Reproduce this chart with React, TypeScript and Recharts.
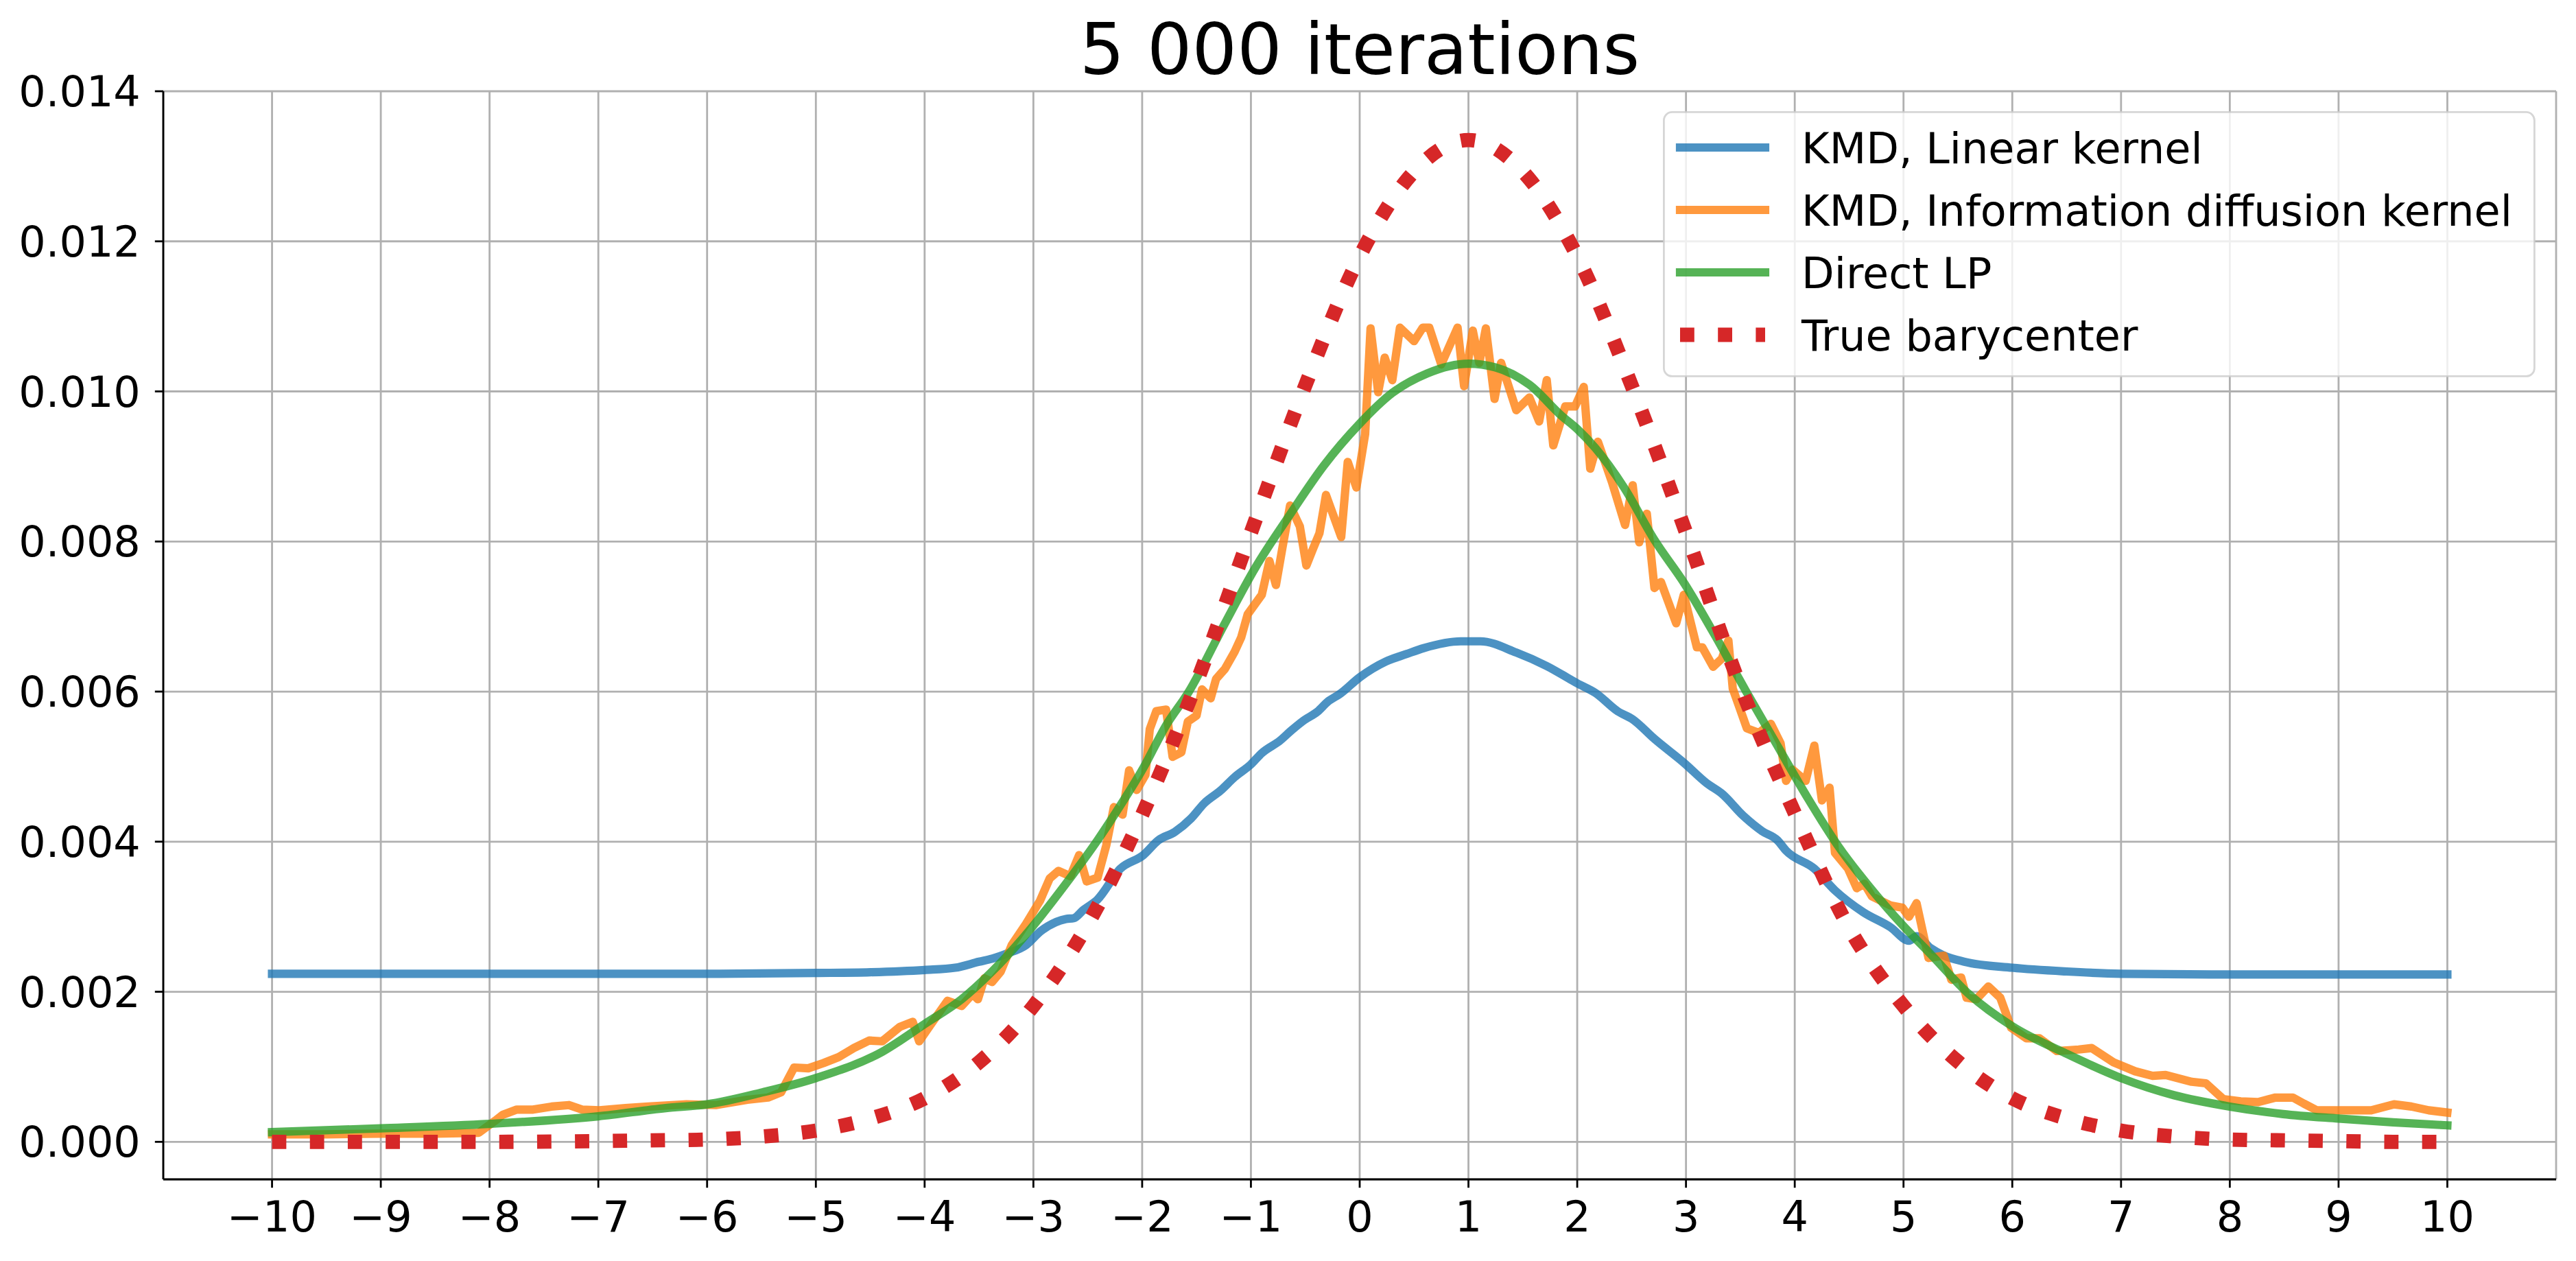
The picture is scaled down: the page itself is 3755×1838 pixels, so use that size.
import { CartesianGrid, Legend, Line, LineChart, XAxis, YAxis } from 'recharts';

const WIDTH = 3755;
const HEIGHT = 1838;
const FONT = '"DejaVu Sans", sans-serif';

const TITLE = '5 000 iterations';

const X_TICKS = [-10, -9, -8, -7, -6, -5, -4, -3, -2, -1, 0, 1, 2, 3, 4, 5, 6, 7, 8, 9, 10];
const Y_TICKS = [0, 0.002, 0.004, 0.006, 0.008, 0.01, 0.012, 0.014];

// KMD, Linear kernel
const linearX = [
  -10, -8, -6, -5, -4.5, -4, -3.72, -3.5, -3.38, -3.24, -3.07, -2.93, -2.7, -2.63, -2.54, -2.41, -2.2,
  -1.99, -1.85, -1.7, -1.55, -1.43, -1.28, -1.15, -1, -0.9, -0.73, -0.63, -0.51, -0.39, -0.29, -0.18, 0,
  0.24, 0.43, 0.59, 0.93, 1.11, 1.44, 1.72, 2, 2.17, 2.37, 2.51, 2.71, 2.99, 3.19, 3.33, 3.53, 3.7, 3.84,
  3.92, 4.18, 4.37, 4.63, 4.88, 5.05, 5.12, 5.25, 5.36, 5.56, 6, 6.5, 7, 8, 10,
];
const linearY = [
  0.00224, 0.00224, 0.00224, 0.00225, 0.00226, 0.00229, 0.00232, 0.0024, 0.00244, 0.00251, 0.00262, 0.00281,
  0.00297, 0.00298, 0.00309, 0.00323, 0.00364, 0.00382, 0.00402, 0.00413, 0.00431, 0.00451, 0.00468, 0.00486,
  0.00503, 0.00518, 0.00535, 0.00548, 0.00562, 0.00573, 0.00587, 0.00597, 0.00619, 0.0064, 0.0065, 0.00658,
  0.00667, 0.00667, 0.00652, 0.00634, 0.00611, 0.00598, 0.00574, 0.00563, 0.00537, 0.00504, 0.00478, 0.00464,
  0.00434, 0.00414, 0.00402, 0.00388, 0.00364, 0.00335, 0.00306, 0.00286, 0.00268, 0.00274, 0.00258, 0.00249,
  0.0024, 0.00232, 0.00227, 0.00224, 0.00223, 0.00223,
];

// KMD, Information diffusion kernel
const diffusionX = [
  -10, -9.5, -9, -8.5, -8.1, -7.95, -7.88, -7.75, -7.6, -7.43, -7.27, -7.15, -6.99, -6.75, -6.54, -6.19,
  -5.92, -5.63, -5.44, -5.32, -5.2, -5.07, -4.93, -4.79, -4.65, -4.51, -4.39, -4.23, -4.11, -4.05, -3.94,
  -3.79, -3.66, -3.56, -3.51, -3.45, -3.38, -3.3, -3.2, -3.07, -2.94, -2.85, -2.77, -2.66, -2.58, -2.51,
  -2.41, -2.33, -2.26, -2.18, -2.12, -2.05, -1.97, -1.93, -1.87, -1.78, -1.72, -1.64, -1.58, -1.5, -1.45,
  -1.37, -1.32, -1.24, -1.15, -1.09, -1.03, -0.9, -0.83, -0.77, -0.71, -0.64, -0.55, -0.49, -0.43, -0.37,
  -0.31, -0.17, -0.11, -0.03, 0.05, 0.1, 0.17, 0.23, 0.3, 0.37, 0.5, 0.58, 0.64, 0.75, 0.9, 0.96,
  1.04, 1.1, 1.16, 1.24, 1.3, 1.44, 1.56, 1.65, 1.72, 1.78, 1.89, 1.98, 2.06, 2.12, 2.19, 2.32, 2.44, 2.51,
  2.57, 2.64, 2.71, 2.77, 2.91, 2.98, 3.1, 3.15, 3.25, 3.33, 3.39, 3.43, 3.56, 3.67, 3.78, 3.87, 3.92, 3.98,
  4.1, 4.18, 4.25, 4.32, 4.37, 4.49, 4.57, 4.64, 4.71, 4.88, 4.99, 5.05, 5.12, 5.23, 5.37, 5.44, 5.53, 5.58,
  5.67, 5.78, 5.89, 5.99, 6.13, 6.25, 6.41, 6.61, 6.73, 6.93, 7.13, 7.29, 7.41, 7.65, 7.78, 7.94, 8.1, 8.26,
  8.42, 8.58, 8.68, 8.8, 9.06, 9.3, 9.51, 9.67, 9.83, 10,
];
const diffusionY = [
  0.0001, 0.0001, 0.00011, 0.00011, 0.00012, 0.00028, 0.00036, 0.00043, 0.00043, 0.00047, 0.00049, 0.00043,
  0.00042, 0.00045, 0.00047, 0.0005, 0.00049, 0.00056, 0.00059, 0.00066, 0.00099, 0.00098, 0.00105, 0.00113,
  0.00125, 0.00135, 0.00134, 0.00153, 0.0016, 0.00134, 0.00157, 0.00188, 0.00181, 0.00197, 0.0019, 0.00218,
  0.00213, 0.00227, 0.00262, 0.0029, 0.00321, 0.00351, 0.00361, 0.00354, 0.00382, 0.00347, 0.00352, 0.00395,
  0.00446, 0.00436, 0.00495, 0.00469, 0.00489, 0.0055, 0.00574, 0.00576, 0.00513, 0.00519, 0.0056, 0.00568,
  0.00603, 0.00591, 0.00617, 0.0063, 0.00653, 0.00672, 0.00703, 0.00729, 0.00774, 0.00742, 0.00792, 0.00848,
  0.0082, 0.00768, 0.0079, 0.00811, 0.00862, 0.00806, 0.00906, 0.00872, 0.00943, 0.01084, 0.00999, 0.01045,
  0.01015, 0.01085, 0.01067, 0.01085, 0.01085, 0.01036, 0.01085, 0.01007, 0.01081, 0.01038, 0.01084, 0.0099,
  0.01038, 0.00975, 0.00992, 0.0096, 0.01015, 0.00928, 0.0098, 0.0098, 0.01006, 0.00897, 0.00933, 0.00879,
  0.00822, 0.00875, 0.00799, 0.00837, 0.00738, 0.00746, 0.00691, 0.00729, 0.00659, 0.00659, 0.00633, 0.00644,
  0.00668, 0.00604, 0.00551, 0.00545, 0.00557, 0.00531, 0.00481, 0.00496, 0.00481, 0.00528, 0.00455, 0.00472,
  0.00385, 0.00364, 0.00338, 0.00344, 0.00327, 0.00315, 0.00312, 0.003, 0.00318, 0.00245, 0.00248, 0.00216,
  0.00219, 0.00192, 0.0019, 0.00207, 0.00192, 0.00152, 0.00138, 0.00138, 0.00121, 0.00123, 0.00125, 0.00106,
  0.00094, 0.00088, 0.00089, 0.0008, 0.00078, 0.00057, 0.00054, 0.00053, 0.00059, 0.00059, 0.00051, 0.00042,
  0.00042, 0.00042, 0.0005, 0.00047, 0.00042, 0.00039,
];

// Direct LP
const directX = [
  -10, -9, -8, -7, -6.38, -6, -5.49, -5, -4.39, -4, -3.66, -3.38, -3.1, -2.68, -2.41, -2.25, -1.99, -1.78,
  -1.57, -1.25, -0.96, -0.64, -0.33, 0, 0.3, 0.62, 1, 1.25, 1.56, 1.86, 2, 2.17, 2.43, 2.71, 2.99, 3.27,
  3.55, 3.84, 4.12, 4.4, 4.68, 4.99, 5.25, 5.6, 6, 6.49, 7, 7.49, 8, 8.49, 9, 9.5, 10,
];
const directY = [
  0.00013, 0.00018, 0.00024, 0.00034, 0.00045, 0.0005, 0.00066, 0.00085, 0.0012, 0.00157, 0.0019, 0.00227,
  0.00271, 0.00348, 0.00402, 0.00437, 0.00498, 0.00555, 0.006, 0.00688, 0.00765, 0.00836, 0.00901, 0.00957,
  0.00998, 0.01024, 0.01037, 0.01032, 0.01009, 0.00967, 0.0095, 0.00924, 0.00872, 0.00802, 0.00743, 0.00674,
  0.00601, 0.00528, 0.00458, 0.00394, 0.00341, 0.00289, 0.0025, 0.00197, 0.00154, 0.00118, 0.00085, 0.00062,
  0.00047, 0.00037, 0.00031, 0.00026, 0.00022,
];

// True barycenter
const trueX = [
  -10, -9, -8, -7, -6.5, -6, -5.5, -5, -4.5, -4, -3.5, -3, -2.5, -2, -1.5, -1, -0.5, 0, 0.5, 1, 1.5, 2, 2.5,
  3, 3.5, 4, 4.5, 5, 5.5, 6, 6.5, 7, 7.5, 8, 8.5, 9, 9.5, 10,
];
const trueY = [
  0, 0, 0, 0.00001, 0.00002, 0.00003, 0.00007, 0.00015, 0.00031, 0.00058, 0.00106, 0.00181, 0.0029, 0.00436,
  0.00612, 0.00812, 0.01008, 0.0118, 0.01293, 0.01335, 0.01293, 0.0118, 0.01008, 0.00812, 0.00607, 0.00438,
  0.00285, 0.00181, 0.00107, 0.00058, 0.00031, 0.00015, 0.00007, 0.00003, 0.00002, 0.00001, 0, 0,
];

const toPoints = (xs: number[], ys: number[]) => xs.map((x, i) => ({ x, y: ys[i] }));

const SERIES = [
  { name: 'KMD, Linear kernel', color: '#1f77b4', data: toPoints(linearX, linearY), dotted: false, curve: 'monotone' },
  { name: 'KMD, Information diffusion kernel', color: '#ff7f0e', data: toPoints(diffusionX, diffusionY), dotted: false, curve: 'linear' },
  { name: 'Direct LP', color: '#2ca02c', data: toPoints(directX, directY), dotted: false, curve: 'monotone' },
  { name: 'True barycenter', color: '#d62728', data: toPoints(trueX, trueY), dotted: true, curve: 'monotone' },
] as const;

const LINE_W = 12.2;
const DOT_W = 20.8;
const DOT_DASH = '20.8 34.4';
const SPINE = { stroke: '#000', strokeWidth: 2.8 };
const TICK_TEXT = { fill: '#000', fontSize: 62, fontFamily: FONT };

const formatX = (v: number) => (v < 0 ? `\u2212${Math.abs(v)}` : `${v}`);

// matplotlib-style legend box, drawn at the upper right of the axes
function LegendBox() {
  const rowY = [53, 144, 235, 326];
  return (
    <svg width={1272} height={388} style={{ display: 'block' }}>
      <rect
        x={1.4}
        y={1.4}
        width={1269}
        height={385}
        rx={12}
        fill="#fff"
        fillOpacity={0.8}
        stroke="#cccccc"
        strokeOpacity={0.8}
        strokeWidth={2.8}
      />
      {SERIES.map((s, i) => (
        <g key={s.name}>
          <line
            x1={25}
            x2={149}
            y1={rowY[i]}
            y2={rowY[i]}
            stroke={s.color}
            strokeOpacity={s.dotted ? 1 : 0.8}
            strokeWidth={s.dotted ? DOT_W : LINE_W}
            strokeDasharray={s.dotted ? DOT_DASH : undefined}
            strokeLinecap={s.dotted ? 'butt' : 'square'}
          />
          <text x={202} y={rowY[i] + 22.5} fontSize={62} fontFamily={FONT} fill="#000">
            {s.name}
          </text>
        </g>
      ))}
    </svg>
  );
}

export default function App() {
  return (
    <div style={{ position: 'absolute', left: 0, top: 0, width: WIDTH, height: HEIGHT, background: '#fff' }}>
      <div
        style={{
          position: 'absolute',
          left: 982,
          top: 21,
          width: 2000,
          textAlign: 'center',
          fontFamily: FONT,
          fontSize: 103,
          lineHeight: 1,
          color: '#000',
          zIndex: 1,
        }}
      >
        {TITLE}
      </div>
      <LineChart width={WIDTH} height={HEIGHT} margin={{ top: 133, right: 29, bottom: 0, left: 0 }}>
        <CartesianGrid stroke="#b0b0b0" strokeWidth={2.8} />
        <XAxis
          dataKey="x"
          type="number"
          domain={[-11, 11]}
          ticks={X_TICKS}
          interval={0}
          height={119}
          tick={TICK_TEXT}
          tickSize={12.2}
          tickMargin={20}
          tickLine={SPINE}
          axisLine={SPINE}
          tickFormatter={formatX}
        />
        <XAxis
          xAxisId="top"
          orientation="top"
          type="number"
          domain={[-11, 11]}
          height={0}
          tick={false}
          tickLine={false}
          axisLine={SPINE}
        />
        <YAxis
          type="number"
          domain={[-0.0005, 0.014]}
          ticks={Y_TICKS}
          interval={0}
          width={238}
          tick={TICK_TEXT}
          tickSize={12.2}
          tickMargin={21}
          tickLine={SPINE}
          axisLine={SPINE}
          tickFormatter={(v: number) => v.toFixed(3)}
        />
        <YAxis
          yAxisId="right"
          orientation="right"
          type="number"
          domain={[0, 1]}
          width={0}
          tick={false}
          tickLine={false}
          axisLine={SPINE}
        />
        <Legend
          layout="vertical"
          align="center"
          verticalAlign="middle"
          content={() => <LegendBox />}
          wrapperStyle={{ left: 2424, top: 162, width: 1272, height: 388, bottom: 'auto', right: 'auto' }}
        />
        {SERIES.map((s) => (
          <Line
            key={s.name}
            data={s.data}
            dataKey="y"
            name={s.name}
            type={s.curve}
            stroke={s.color}
            strokeOpacity={s.dotted ? 1 : 0.8}
            strokeWidth={s.dotted ? DOT_W : LINE_W}
            strokeDasharray={s.dotted ? DOT_DASH : undefined}
            strokeLinecap={s.dotted ? 'butt' : 'square'}
            strokeLinejoin="round"
            dot={false}
            activeDot={false}
            isAnimationActive={false}
          />
        ))}
      </LineChart>
    </div>
  );
}
